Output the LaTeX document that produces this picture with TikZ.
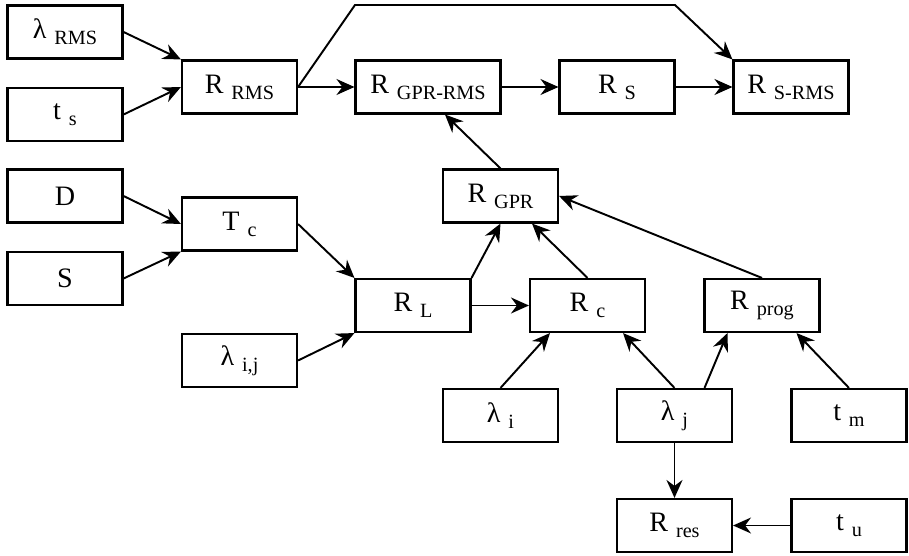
\documentclass[tikz,border=0pt]{standalone}
\usepackage{fontspec}
\setmainfont{Liberation Serif}
\usetikzlibrary{arrows.meta, positioning}
\newcommand{\subtxt}[2]{#1\hspace{0.28em}\raisebox{-0.45ex}{\fontsize{11.5}{12}\selectfont #2}}

\begin{document}
\begin{tikzpicture}[
    blk/.style={draw, line width=1.2pt, minimum width=2.3cm, minimum height=1.06cm,
                inner sep=0pt, font=\fontsize{16}{18}\selectfont},
    arr/.style={-{Stealth[length=3.6mm, width=3.2mm, inset=1.2mm]}, line width=1.1pt}]
      \useasboundingbox (0,0) rectangle (18.18,-11.12);
      % top row
      \node[blk] (lrms) at (1.30,-0.64) {\subtxt{λ}{RMS}};
      \node[blk] (ts) at (1.30,-2.29) {\subtxt{t}{s}};
      \node[blk] (rrms) at (4.79,-1.74) {\subtxt{R}{RMS}};
      \node[blk, minimum width=2.9cm] (rgprrms) at (8.56,-1.74) {\subtxt{R}{GPR-RMS}};
      \node[blk] (rs) at (12.34,-1.74) {\subtxt{R}{S}};
      \node[blk] (rsrms) at (15.82,-1.74) {\subtxt{R}{S-RMS}};
      % middle
      \node[blk] (dd) at (1.30,-3.92) {D};
      \node[blk] (ss) at (1.30,-5.57) {S};
      \node[blk] (tc) at (4.79,-4.48) {\subtxt{T}{c}};
      \node[blk] (rgpr) at (10.01,-3.92) {\subtxt{R}{GPR}};
      \node[blk] (rl) at (8.26,-6.11) {\subtxt{R}{L}};
      \node[blk] (rc) at (11.75,-6.11) {\subtxt{R}{c}};
      \node[blk] (rprog) at (15.24,-6.11) {\subtxt{R}{prog}};
      \node[blk] (lij) at (4.79,-7.21) {\subtxt{λ}{i,j}};
      % bottom
      \node[blk] (li) at (10.01,-8.31) {\subtxt{λ}{i}};
      \node[blk] (lj) at (13.49,-8.31) {\subtxt{λ}{j}};
      \node[blk] (tm) at (16.98,-8.31) {\subtxt{t}{m}};
      \node[blk] (rres) at (13.49,-10.51) {\subtxt{R}{res}};
      \node[blk] (tu) at (16.98,-10.51) {\subtxt{t}{u}};
      \coordinate (bendl) at (7.10,-0.10);
      \coordinate (bendr) at (13.50,-0.10);

      \draw[arr] (lrms.east) -- (rrms.north west);
      \draw[arr] (ts.east) -- (rrms.west);
      \draw[arr] (rrms.east) -- (rgprrms.west);
      \draw[arr] (rrms.east) -- (bendl) -- (bendr) -- (rsrms.north west);
      \draw[arr] (rgprrms.east) -- (rs.west);
      \draw[arr] (rs.east) -- (rsrms.west);
      \draw[arr] (dd.east) -- (tc.west);
      \draw[arr] (ss.east) -- (tc.south west);
      \draw[arr] (tc.east) -- (rl.north west);
      \draw[arr] (lij.east) -- (rl.south west);
      \draw[arr] (rl.north east) -- (rgpr.south);
      \draw[arr] (rl.east) -- (rc.west);
      \draw[arr] (rc.north) -- ([xshift=0.63cm]rgpr.south);
      \draw[arr] (rprog.north) -- (rgpr.east);
      \draw[arr] (rgpr.north) -- ([xshift=0.34cm]rgprrms.south);
      \draw[arr] (li.north) -- ([xshift=-0.75cm]rc.south);
      \draw[arr] (lj.north) -- ([xshift=0.71cm]rc.south);
      \draw[arr] ([xshift=0.6cm]lj.north) -- ([xshift=-0.69cm]rprog.south);
      \draw[arr] (tm.north) -- ([xshift=0.69cm]rprog.south);
      \draw[arr] (lj.south) -- (rres.north);
      \draw[arr, line width=0.8pt] (tu.west) -- (rres.east);
\end{tikzpicture}
\end{document}
